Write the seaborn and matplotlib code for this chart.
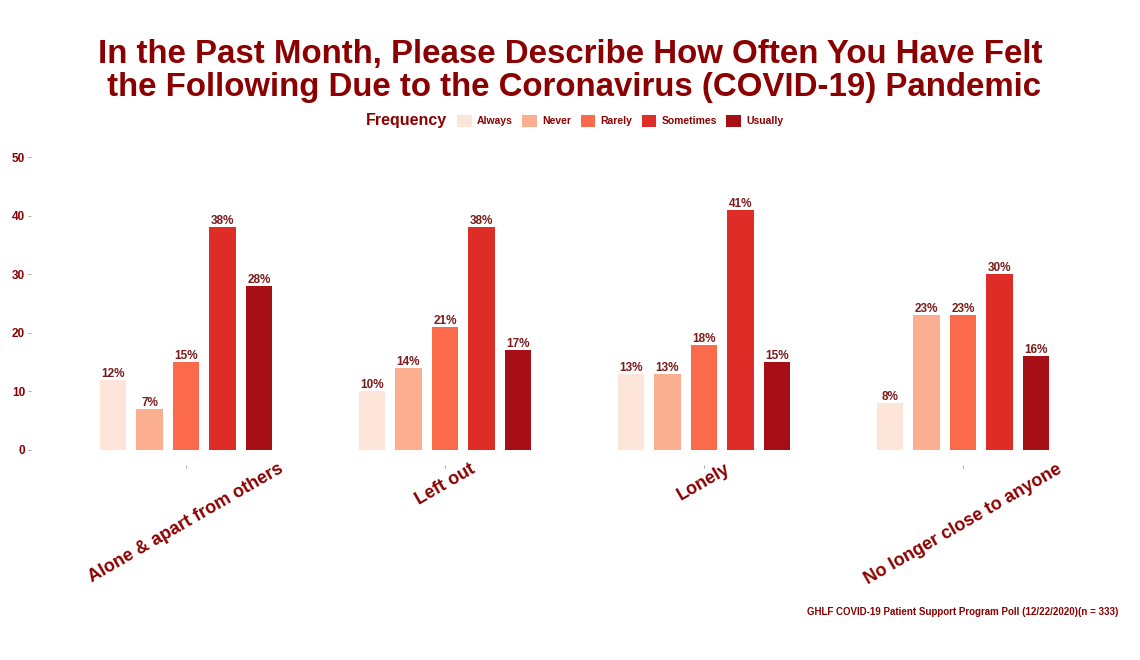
import pandas as pd
import seaborn as sns
import matplotlib.pyplot as plt

# poll answers, percent of respondents
items = ['Alone & apart from others', 'Left out', 'Lonely', 'No longer close to anyone']
frequencies = ['Always', 'Never', 'Rarely', 'Sometimes', 'Usually']
always = [12, 10, 13, 8]
never = [7, 14, 13, 23]
rarely = [15, 21, 18, 23]
sometimes = [38, 38, 41, 30]
usually = [28, 17, 15, 16]

palette = ['#fee5d9', '#fcae91', '#fb6a4a', '#de2d26', '#a50f15']
dark_red = '#8b0000'

rows = []
for freq, vals in zip(frequencies, [always, never, rarely, sometimes, usually]):
    for item, v in zip(items, vals):
        rows.append({'item': item, 'freq': freq, 'value': v})
df = pd.DataFrame(rows)

sns.set_theme(style='white')
plt.rcParams['font.family'] = ['Liberation Sans', 'DejaVu Sans']

fig = plt.figure(figsize=(11.4, 6.6), dpi=100)
# y axis padded 5% each side like ggplot
ax = fig.add_axes([30.6 / 1140, 1 - 464.6 / 660, 4.2 * 259 / 1140, (464.6 - 142.4) / 660])

sns.barplot(data=df, x='item', y='value', hue='freq', order=items,
            hue_order=frequencies, palette=palette, width=0.705, gap=0.28,
            saturation=1, edgecolor='none', linewidth=0, ax=ax)

for cont in ax.containers:
    ax.bar_label(cont, labels=['%d%%' % v for v in cont.datavalues],
                 padding=0, fontsize=8.5, fontweight='bold', color='#7a1b1b')

ax.set_xlim(-0.6, 3.6)
ax.set_ylim(-2.5, 52.5)
ax.set_yticks([0, 10, 20, 30, 40, 50])
ax.set_xlabel('')
ax.set_ylabel('')
sns.despine(ax=ax, left=True, bottom=True)
ax.tick_params(axis='both', length=2, color='#999999', width=0.6,
               bottom=True, left=True)
ax.tick_params(axis='y', labelsize=8.5, labelcolor=dark_red, pad=2)
for lbl in ax.get_yticklabels():
    lbl.set_fontweight('bold')
ax.set_xticks(range(len(items)))
ax.set_xticklabels(items, rotation=30, ha='center', fontsize=13,
                   fontweight='bold', color=dark_red)
ax.tick_params(axis='x', pad=-5)

handles, labels = ax.get_legend_handles_labels()
ax.get_legend().remove()
fig.text(366 / 1140, 1 - 121 / 660, 'Frequency', fontsize=11.5, fontweight='bold',
         color=dark_red, va='center', ha='left')
leg = fig.legend(handles, labels, ncol=5, loc='center left',
                 bbox_to_anchor=(448 / 1140, 1 - 121 / 660), frameon=False,
                 handlelength=1.4, handleheight=1.4, handletextpad=0.5,
                 columnspacing=0.9, prop={'size': 7.5, 'weight': 'bold'})
for t in leg.get_texts():
    t.set_color(dark_red)

fig.suptitle('In the Past Month, Please Describe How Often You Have Felt\n'
             ' the Following Due to the Coronavirus (COVID-19) Pandemic',
             x=0.5, y=1 - 39 / 660, fontsize=23.8, fontweight='bold',
             color=dark_red, linespacing=1.08, va='top')

fig.text(1118 / 1140, 1 - 612 / 660,
         'GHLF COVID-19 Patient Support Program Poll (12/22/2020)(n = 333)',
         ha='right', va='center', fontsize=7, fontweight='bold', color=dark_red)

fig.savefig('out.png', dpi=100)
